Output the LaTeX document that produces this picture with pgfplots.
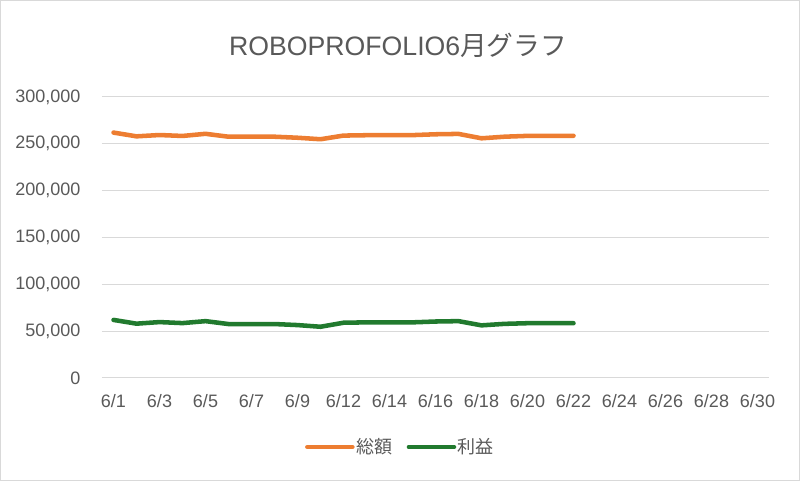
\documentclass[border=0pt]{standalone}
\usepackage{pgfplots}
\pgfplotsset{compat=1.18}
\usepackage{fontspec}
\setmainfont{Liberation Sans}
\newfontfamily\jp{Noto Sans CJK JP}
\definecolor{txt}{HTML}{595959}
\definecolor{grd}{HTML}{D9D9D9}
\definecolor{org}{HTML}{ED7D31}
\definecolor{grn}{HTML}{217A2E}
\pgfplotstableread{
x total profit
0 262000 62000
1 258000 58000
2 259400 59700
3 258400 58600
4 260700 60700
5 257600 57600
6 257600 57600
7 257600 57600
8 256500 56500
9 254900 54700
10 258800 59000
11 259200 59400
12 259300 59400
13 259300 59400
14 260200 60300
15 260600 60700
16 255900 56200
17 257600 57800
18 258500 58500
19 258600 58500
20 258600 58500
}\datatable
\begin{document}
\begin{tikzpicture}[x=1pt,y=1pt]
\useasboundingbox (0,0) rectangle (600,360.75);
\draw[grd, line width=0.75pt] (0.375,0.375) rectangle (599.625,360.375);
\node[txt, font=\fontsize{20}{24}\selectfont] at (298.5,327) {ROBOPROFOLIO6{\jp 月グラフ}};
\begin{axis}[
  at={(76.5pt,77.25pt)}, anchor=south west,
  scale only axis, width=500.25pt, height=210.75pt,
  xmin=-0.5, xmax=28.5, ymin=0, ymax=300000,
  xtick={0,2,...,28},
  xticklabels={6/1,6/3,6/5,6/7,6/9,6/12,6/14,6/16,6/18,6/20,6/22,6/24,6/26,6/28,6/30},
  ytick={0,50000,100000,150000,200000,250000,300000},
  yticklabels={0,{50,000},{100,000},{150,000},{200,000},{250,000},{300,000}},
  scaled y ticks=false,
  axis line style={draw=none},
  major tick length=0pt,
  ymajorgrids, grid style={grd, line width=0.75pt},
  tick label style={txt, font=\fontsize{13.5}{16}\selectfont},
  yticklabel style={anchor=east, inner sep=0pt, xshift=-16pt},
  xticklabel style={anchor=north, inner sep=0pt, yshift=-12.5pt},
  legend columns=2,
  legend style={at={(0.4468,-0.2456)}, anchor=center, draw=none, fill=none,
    font=\fontsize{13.5}{16}\selectfont\jp, text=txt,
    /tikz/every even column/.append style={column sep=10pt},
    nodes={inner sep=1pt}},
  legend image code/.code={\draw[#1, line width=3.2pt, line cap=round] (0pt,0pt) -- (34pt,0pt);},
]
\addplot[org, line width=3.4pt, line join=round, line cap=round] table[x=x,y=total] {\datatable};
\addlegendentry{総額}
\addplot[grn, line width=3.4pt, line join=round, line cap=round] table[x=x,y=profit] {\datatable};
\addlegendentry{利益}
\end{axis}
\end{tikzpicture}
\end{document}
